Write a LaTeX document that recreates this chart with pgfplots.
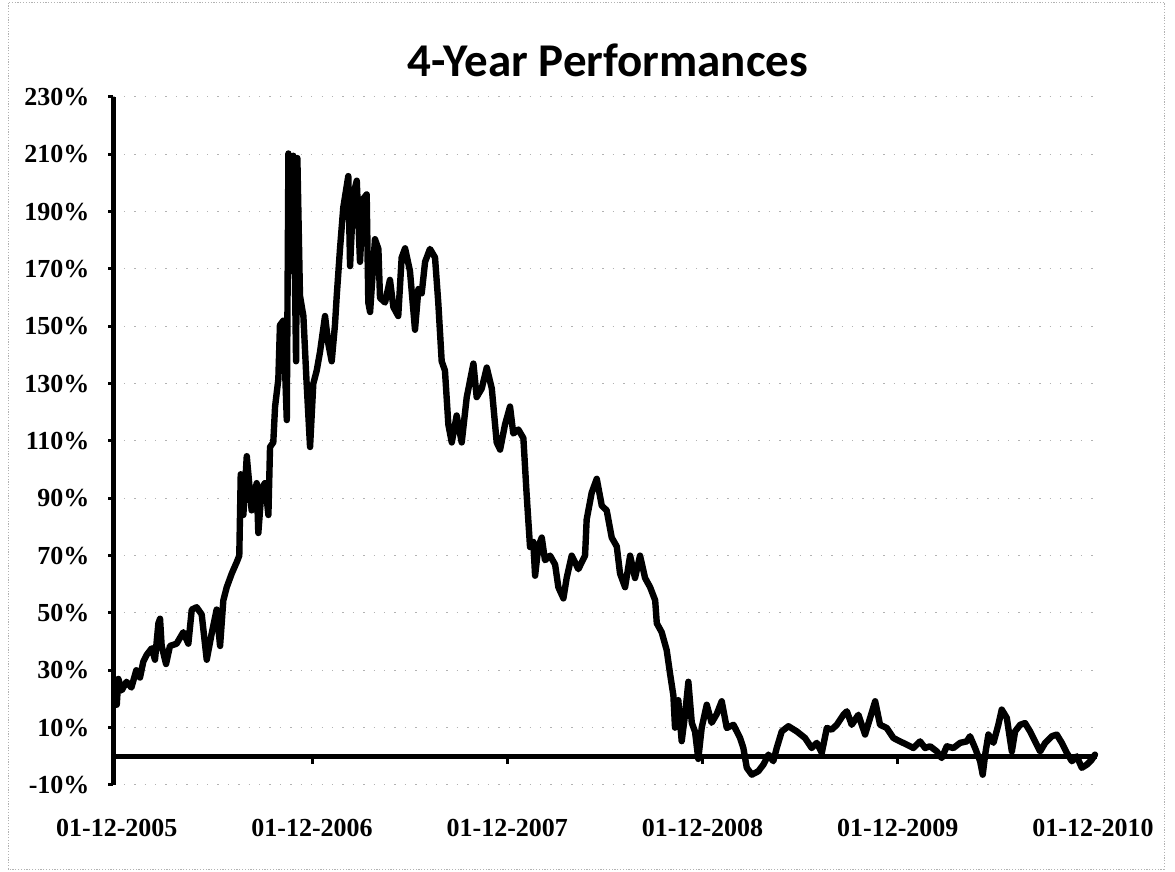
\documentclass[border=0pt]{standalone}
\usepackage{fontspec}
\setmainfont{Liberation Serif}
\newfontfamily\titlefont{Carlito}
\usepackage{pgfplots}
\usepackage{pgfplotstable}
\pgfplotsset{compat=1.18}

\pgfplotstableread{
m v
0.00 18
0.10 27
0.30 23
0.60 26
0.90 24
1.20 30
1.43 27.5
1.63 33
1.84 35.4
2.15 37.7
2.35 33.7
2.56 46.4
2.66 48
2.76 38.5
3.03 32.2
3.27 38.5
3.68 39.3
4.09 43.3
4.40 39.3
4.61 51.2
4.91 52
5.22 49.5
5.53 33.7
5.84 43
6.14 51.2
6.35 38.5
6.55 54.4
6.76 59
7.07 63.8
7.37 67.7
7.53 70
7.62 98.4
7.78 84.2
7.99 104.7
8.29 85.8
8.60 95.3
8.70 77.9
8.91 93.7
9.11 95.3
9.32 84.2
9.42 107.9
9.62 109.5
9.73 122
9.93 131.5
10.03 150.4
10.24 152
10.45 117.3
10.55 210.3
10.75 169.3
10.85 209.5
11.02 137.8
11.10 208.7
11.26 160.7
11.47 153.6
11.67 130
11.88 107.9
12.08 130
12.29 134.6
12.49 141
12.80 153.6
13.00 144
13.21 137.8
13.41 150.4
13.52 160.7
13.72 177
13.92 191.4
14.23 202.4
14.34 171
14.54 196
14.75 200.8
14.95 172.5
15.15 194.5
15.36 196
15.46 158.3
15.57 155
15.87 180.4
16.08 177
16.18 159.9
16.49 158.3
16.79 166.2
17.00 156.7
17.30 153.6
17.51 174
17.72 177.2
18.02 169.3
18.33 148.8
18.54 163
18.74 161.5
18.95 172.5
19.25 177
19.56 174
19.76 158.3
19.97 137.8
20.17 134.6
20.38 115.7
20.59 109.5
20.89 118.9
21.20 109.5
21.51 125.3
21.92 137
22.12 125.3
22.43 128.3
22.74 135.6
23.05 128.3
23.35 109.5
23.56 107
23.86 115.7
24.17 122
24.37 112.6
24.68 114
24.99 111
25.20 90.5
25.40 73
25.60 74.8
25.71 63
25.91 73.2
26.12 76.3
26.32 68.4
26.63 70
26.94 66.9
27.14 59
27.45 55.1
27.65 62.2
27.96 70
28.37 65.3
28.78 70
28.88 82.6
29.19 92
29.50 96.8
29.81 87.4
30.11 85.8
30.42 76.3
30.73 73.2
30.93 63.8
31.24 59
31.55 70
31.85 62.2
32.16 70
32.47 62.2
32.78 59
33.09 54.4
33.19 46.4
33.49 43.3
33.80 37
34.00 29
34.21 21.2
34.31 10
34.51 19.6
34.72 5.3
34.93 14.7
35.13 26
35.34 11.7
35.54 8.6
35.74 -0.9
35.95 10
36.26 18
36.56 11.7
36.87 14.7
37.18 19.2
37.49 9.9
37.90 11
38.31 6.4
38.51 2.9
38.72 -4
39.03 -6.4
39.43 -5.2
39.74 -2.9
40.05 0.6
40.35 -1.7
40.56 2.9
40.87 8.7
41.28 10.5
41.79 8.7
42.30 6.4
42.71 2.9
43.02 4.7
43.33 1.2
43.64 9.9
43.94 9.3
44.25 11
44.66 14.5
44.87 15.7
45.17 11
45.58 14.5
45.99 7.6
46.30 13.4
46.61 19.2
46.91 11
47.32 9.9
47.73 6.4
48.14 5.2
48.55 4.1
48.96 2.9
49.37 5.2
49.68 2.9
49.99 3.5
50.40 1.7
50.70 -0.6
51.01 3.5
51.42 2.9
51.83 4.7
52.24 5.2
52.44 7
52.75 2.9
53.06 -1.7
53.22 -6.4
53.37 0.6
53.57 7.6
53.88 4.7
54.18 11
54.39 16.3
54.70 13.4
55.01 1.7
55.21 8.7
55.52 11
55.82 11.6
56.13 8.7
56.44 5.2
56.75 1.7
57.06 4.7
57.47 7
57.77 7.6
58.08 4.7
58.39 1.2
58.70 -1.7
59.00 0
59.31 -4
59.62 -2.9
59.92 -1.2
60.12 0.6
}\perf

\begin{document}
\begin{tikzpicture}
\useasboundingbox (0,0) rectangle (587.5pt,436pt);
\draw[gray!60, line width=0.4pt, dash pattern=on 0.6pt off 0.8pt] (4pt,1.5pt) rectangle (582pt,435pt);
\node[anchor=base, font=\titlefont\bfseries\fontsize{23.5}{26}\selectfont] at (304pt,397.5pt) {4-Year Performances};
\begin{axis}[
  at={(56.75pt,43.5pt)}, anchor=south west,
  scale only axis, width=491.8pt, height=344pt,
  xmin=-0.2, xmax=60.25, ymin=-10, ymax=230,
  axis x line*=bottom, axis y line*=left,
  x axis line style={draw=none},
  y axis line style={line width=2.2pt, black},
  xtick={0,12,24,36,48,60},
  xticklabels={01-12-2005,01-12-2006,01-12-2007,01-12-2008,01-12-2009,01-12-2010},
  xtick style={draw=none},
  ytick={-10,10,...,230},
  yticklabels={-10\%,10\%,30\%,50\%,70\%,90\%,110\%,130\%,150\%,170\%,190\%,210\%,230\%},
  ytick style={line width=1.5pt, black},
  tick align=outside, major tick length=2.5pt,
  ticklabel style={font=\bfseries\fontsize{13}{15}\selectfont},
  xticklabel style={yshift=-11pt},
  yticklabel style={xshift=-6pt},
  ymajorgrids,
  major grid style={draw=gray!60, line width=0.5pt, dash pattern=on 0.7pt off 4.5pt},
  clip=false,
]
\addplot[black, line width=2.2pt, forget plot] coordinates {(-0.2,0) (60.25,0)};
\draw[black, line width=1.5pt] (axis cs:12,0) -- ++(0pt,-4pt);
\draw[black, line width=1.5pt] (axis cs:24,0) -- ++(0pt,-4pt);
\draw[black, line width=1.5pt] (axis cs:36,0) -- ++(0pt,-4pt);
\draw[black, line width=1.5pt] (axis cs:48,0) -- ++(0pt,-4pt);
\addplot[black, line width=3.2pt, line join=round, line cap=round] table[x=m, y=v] {\perf};
\end{axis}
\end{tikzpicture}
\end{document}
